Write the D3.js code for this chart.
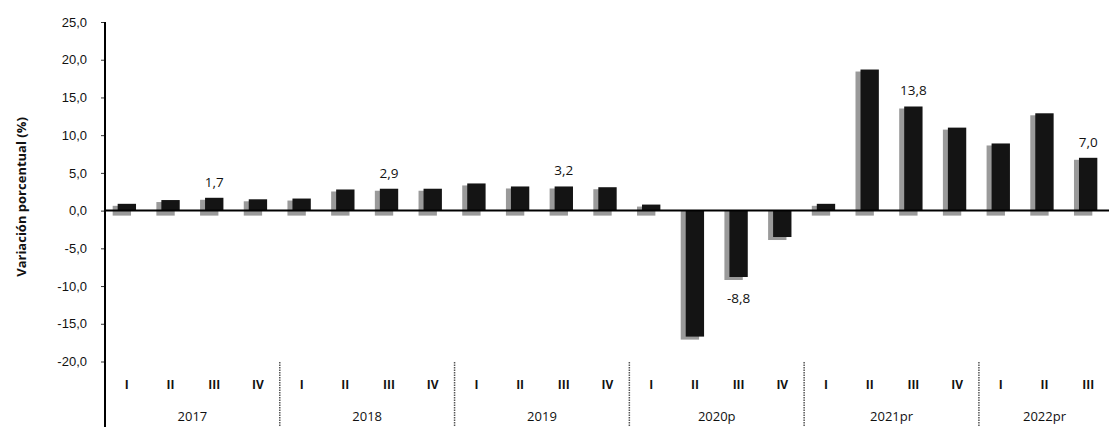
<!DOCTYPE html>
<html>
<head>
<meta charset="utf-8">
<script src="https://cdn.jsdelivr.net/npm/d3@7"></script>
<style>
  body { margin: 0; background: #fff; }
  svg { display: block; font-family: "Open Sans", "Noto Sans", sans-serif; }
  .tick text { font-size: 13px; fill: #111; }
  .bar-label { font-size: 13.5px; fill: #111; }
  .q-label { font-size: 12px; font-weight: bold; fill: #111; }
  .y-label { font-size: 13px; fill: #111; }
</style>
</head>
<body>
<div id="chart"></div>
<script>
// data
var years = ["2017", "2018", "2019", "2020p", "2021pr", "2022pr"];
var quartersPerYear = [4, 4, 4, 4, 4, 3];
var quarterNames = ["I", "II", "III", "IV"];
var values = [
  0.9, 1.4, 1.7, 1.5,
  1.6, 2.8, 2.9, 2.9,
  3.6, 3.2, 3.2, 3.1,
  0.8, -16.7, -8.8, -3.5,
  0.9, 18.7, 13.8, 11.0,
  8.9, 12.9, 7.0
];
var labeledIdx = [2, 6, 10, 14, 18, 22];
var yTicks = [-20, -15, -10, -5, 0, 5, 10, 15, 20, 25];

var width = 1109, height = 427;

// build rows
var rows = [];
years.forEach(function (y, yi) {
  for (var q = 0; q < quartersPerYear[yi]; q++) {
    rows.push({ key: y + "-" + q, year: y, quarter: quarterNames[q], value: values[rows.length] });
  }
});

// decimal comma, plain hyphen for minus
var fmt = function (v) { return d3.format(".1f")(v).replace(".", ",").replace("\u2212", "-"); };

var svg = d3.select("#chart").append("svg")
  .attr("width", width)
  .attr("height", height);

svg.append("rect").attr("width", width).attr("height", height).attr("fill", "#fff");

var xScale = d3.scaleBand()
  .domain(rows.map(function (d) { return d.key; }))
  .range([105, 1110])
  .paddingInner(0.58)
  .paddingOuter(0.29);

var yScale = d3.scaleLinear()
  .domain([-20, 25])
  .range([361.5, 22]);

// axis-y
var yAxis = svg.append("g")
  .attr("transform", "translate(105,0)")
  .call(d3.axisLeft(yScale).tickValues(yTicks).tickSize(4).tickPadding(14).tickFormat(fmt));
yAxis.select(".domain").remove();
yAxis.selectAll(".tick line").attr("stroke", "#333");

svg.append("text")
  .attr("class", "y-label")
  .attr("transform", "translate(26,197) rotate(-90)")
  .attr("text-anchor", "middle")
  .attr("font-weight", "bold")
  .text("Variación porcentual (%)");

// bars (shadow first)
var bar = svg.selectAll("g.bar").data(rows).enter().append("g").attr("class", "bar");

bar.append("rect")
  .attr("x", function (d) { return xScale(d.key) - 5; })
  .attr("y", function (d) { return d.value >= 0 ? yScale(d.value) + 2 : yScale(0); })
  .attr("width", xScale.bandwidth())
  .attr("height", function (d) { return Math.abs(yScale(d.value) - yScale(0)) + 3; })
  .attr("fill", "#9a9a9a");

bar.append("rect")
  .attr("x", function (d) { return xScale(d.key); })
  .attr("y", function (d) { return Math.min(yScale(d.value), yScale(0)); })
  .attr("width", xScale.bandwidth())
  .attr("height", function (d) { return Math.abs(yScale(d.value) - yScale(0)); })
  .attr("fill", "#141414");

// zero line and y axis line
svg.append("line")
  .attr("x1", 105).attr("x2", width)
  .attr("y1", yScale(0)).attr("y2", yScale(0))
  .attr("stroke", "#000").attr("stroke-width", 2);
svg.append("line")
  .attr("x1", 105).attr("x2", 105)
  .attr("y1", 22).attr("y2", height)
  .attr("stroke", "#000").attr("stroke-width", 2);

// value labels
svg.selectAll("text.bar-label")
  .data(labeledIdx.map(function (i) { return rows[i]; }))
  .enter().append("text")
  .attr("class", "bar-label")
  .attr("text-anchor", "middle")
  .attr("x", function (d) { return xScale(d.key) + xScale.bandwidth() / 2; })
  .attr("y", function (d) { return d.value >= 0 ? yScale(d.value) - 11 : yScale(d.value) + 26; })
  .text(function (d) { return fmt(d.value); });

// quarter labels
svg.selectAll("text.q-label").data(rows).enter().append("text")
  .attr("class", "q-label")
  .attr("text-anchor", "middle")
  .attr("x", function (d) { return xScale(d.key) + xScale.bandwidth() / 2; })
  .attr("y", 389)
  .text(function (d) { return d.quarter; });

// year labels and separators
var step = xScale.step();
var start = 0;
years.forEach(function (y, yi) {
  var first = rows[start], last = rows[start + quartersPerYear[yi] - 1];
  var cx = (xScale(first.key) + xScale(last.key)) / 2 + xScale.bandwidth() / 2;
  svg.append("text")
    .attr("class", "y-label")
    .attr("text-anchor", "middle")
    .attr("x", cx)
    .attr("y", 421)
    .text(y);
  if (yi > 0) {
    var sx = xScale(first.key) + xScale.bandwidth() / 2 - step / 2;
    svg.append("line")
      .attr("x1", sx).attr("x2", sx)
      .attr("y1", 362).attr("y2", height)
      .attr("stroke", "#555")
      .attr("stroke-width", 1.5)
      .attr("stroke-dasharray", "1.5,1");
  }
  start += quartersPerYear[yi];
});
</script>
</body>
</html>
